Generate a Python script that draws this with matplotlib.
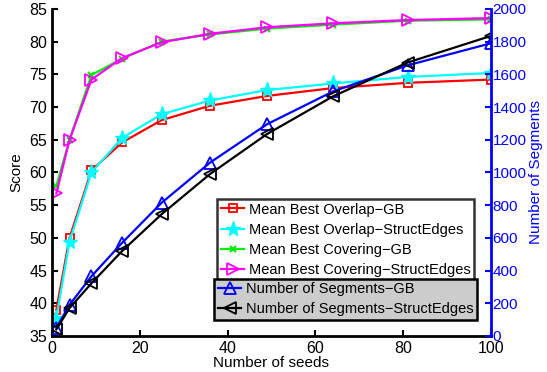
import numpy as np
import matplotlib
matplotlib.use('Agg')
from matplotlib import pyplot as plt

plt.rcParams['font.family'] = ['Liberation Sans', 'DejaVu Sans']

seeds = [1, 4, 9, 16, 25, 36, 49, 64, 81, 100]

# scores (left axis)
overlap_gb = [39.0, 50.0, 60.3, 64.6, 68.0, 70.2, 71.7, 72.9, 73.7, 74.2]
overlap_se = [37.8, 49.4, 60.0, 65.3, 68.9, 71.0, 72.6, 73.6, 74.6, 75.2]
covering_gb = [57.9, 65.0, 74.9, 77.4, 80.0, 81.1, 82.0, 82.6, 83.2, 83.4]
covering_se = [56.8, 65.0, 74.2, 77.5, 79.9, 81.2, 82.2, 82.8, 83.3, 83.6]

# number of segments (right axis)
nseg_gb = [50, 190, 365, 570, 815, 1060, 1295, 1495, 1655, 1790]
nseg_se = [40, 170, 322, 520, 745, 990, 1235, 1465, 1672, 1835]

fig = plt.figure(figsize=(5.47, 3.72), dpi=100)
ax = fig.add_axes([0.095, 0.097, 0.8026, 0.879])
ax2 = ax.twinx()

lw = 1.6
l1, = ax.plot(seeds, overlap_gb, 'r-s', lw=lw, ms=6, mfc='none', mew=1.3, label='Mean Best Overlap\u2212GB')
l2, = ax.plot(seeds, overlap_se, '-*', color='cyan', lw=lw, ms=11, label='Mean Best Overlap\u2212StructEdges')
l3, = ax.plot(seeds, covering_gb, '-x', color='#00ee00', lw=lw, ms=5, mew=1.5, label='Mean Best Covering\u2212GB')
l4, = ax.plot(seeds, covering_se, '->', color='magenta', lw=lw, ms=9, mfc='none', mew=1.3, label='Mean Best Covering\u2212StructEdges')

l5, = ax2.plot(seeds, nseg_gb, 'b-^', lw=lw, ms=9, mfc='none', mew=1.3, label='Number of Segments\u2212GB')
l6, = ax2.plot(seeds, nseg_se, 'k-<', lw=lw, ms=9, mfc='none', mew=1.3, label='Number of Segments\u2212StructEdges')

ax.set_xlim(0, 100)
ax.set_ylim(35, 85)
ax2.set_ylim(0, 2000)
ax.set_xticks([0, 20, 40, 60, 80, 100])
ax.set_yticks(range(35, 86, 5))
ax2.set_yticks(range(0, 2001, 200))

ax.set_xlabel('Number of seeds', fontsize=11, labelpad=0)
ax.set_ylabel('Score', fontsize=11, labelpad=4)
ax2.set_ylabel('Number of Segments', fontsize=11, color='blue', labelpad=2)

ax.tick_params(direction='in', labelsize=11.5, width=1.5, length=4)
ax2.tick_params(direction='in', labelsize=11, width=1.5, length=4, colors='blue', pad=1)
ax2.tick_params(axis='x', which='both', top=False)

for a in (ax, ax2):
    a.spines['top'].set_visible(False)
    a.spines['left'].set_linewidth(2)
    a.spines['bottom'].set_linewidth(2)
    a.spines['right'].set_linewidth(2)
ax.spines['right'].set_visible(False)
ax2.spines['left'].set_visible(False)
ax2.spines['bottom'].set_visible(False)
ax2.spines['right'].set_color('blue')

leg1 = ax2.legend(handles=[l1, l2, l3, l4], loc='upper left', bbox_to_anchor=(0.377, 0.419),
                  fontsize=10.5, frameon=True, fancybox=False, borderpad=0.25, labelspacing=0.42,
                  handlelength=1.6, handletextpad=0.3, borderaxespad=0)
leg1.get_frame().set_edgecolor('black')
leg1.get_frame().set_linewidth(1.8)
ax2.add_artist(leg1)

leg2 = ax2.legend(handles=[l5, l6], loc='upper left', bbox_to_anchor=(0.370, 0.175),
                  fontsize=10.5, frameon=True, fancybox=False, borderpad=0.25, labelspacing=0.42,
                  handlelength=1.6, handletextpad=0.3, borderaxespad=0)
leg2.get_frame().set_facecolor('#cccccc')
leg2.get_frame().set_alpha(1)
leg2.get_frame().set_edgecolor('black')
leg2.get_frame().set_linewidth(1.8)

fig.savefig('out.png', dpi=100)
